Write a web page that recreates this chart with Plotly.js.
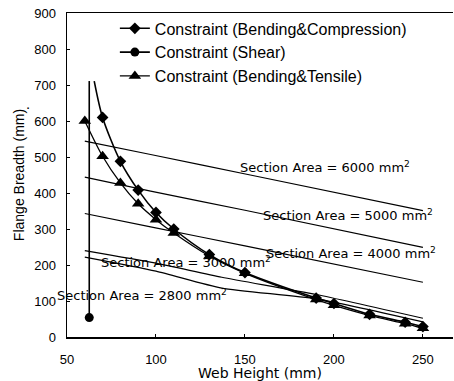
<!DOCTYPE html>
<html>
<head>
<meta charset="utf-8">
<script src="https://cdn.plot.ly/plotly-3.0.1.min.js"></script>
<style>html,body{margin:0;padding:0;background:#fff;}#chart{width:454px;height:381px;}</style>
</head>
<body>
<div id="chart"></div>
<script>
// Constraint (Bending&Compression) — listed from the right end to the top of the curve
const compX = [250, 240, 220, 200, 190, 150, 130, 110, 100, 90, 80, 70, 65.3];
const compY = [29, 41, 63, 93, 108, 179, 229, 300, 346, 408, 488, 610, 711];
const compMarkerColor = ['#000', '#000', '#000', '#000', '#000', '#000', '#000', '#000', '#000', '#000', '#000', '#000', 'rgba(0,0,0,0)'];
// Constraint (Shear)
const shearX = [62.5, 62.5];
const shearY = [54, 711];
const shearMarkerColor = ['#000', 'rgba(0,0,0,0)'];
// Constraint (Bending&Tensile)
const tensX = [60, 70, 80, 90, 100, 110, 130, 150, 190, 200, 220, 240, 250];
const tensY = [600, 502, 428, 370, 326, 289, 225, 177, 104, 88, 60, 37, 24];
// Section area lines
const a6000X = [60, 97, 153, 250];
const a6000Y = [544, 507, 450, 351];
const a5000X = [60, 97, 150, 250];
const a5000Y = [444, 405, 352, 249];
const a4000X = [60, 97, 150, 250];
const a4000Y = [343, 306, 253, 152];
const a3000X = [60, 100, 137, 190, 250];
const a3000Y = [240, 205, 166, 118, 52];
const a2800X = [60, 100, 137, 190, 250];
const a2800Y = [222, 183, 136, 106, 42];
// Labels
const legendNames = ["Constraint (Bending&Compression)", "Constraint (Shear)", "Constraint (Bending&Tensile)"];
const areaLabels = ["Section Area = 6000 mm<sup>2</sup>", "Section Area = 5000 mm<sup>2</sup>", "Section Area = 4000 mm<sup>2</sup>", "Section Area = 3000 mm<sup>2</sup>", "Section Area = 2800 mm<sup>2</sup>"];
const areaLabelX = [194.7, 208, 209.5, 117, 92];
const areaLabelY = [472, 339, 232, 209, 117];
const xTicks = [50, 100, 150, 200, 250];
const yTicks = [0, 100, 200, 300, 400, 500, 600, 700, 800, 900];

const areaLine = {color: '#000', width: 1.2, shape: 'spline', smoothing: 0.6};
const traces = [
  {x: compX, y: compY, name: legendNames[0], mode: 'lines+markers', line: {color: '#000', width: 1.6, shape: 'spline', smoothing: 0.8}, marker: {symbol: 'diamond', size: 9, color: compMarkerColor, opacity: 1}},
  {x: shearX, y: shearY, name: legendNames[1], mode: 'lines+markers', line: {color: '#000', width: 1.6}, marker: {symbol: 'circle', size: 9, color: shearMarkerColor, opacity: 1}},
  {x: tensX, y: tensY, name: legendNames[2], mode: 'lines+markers', line: {color: '#000', width: 1.3, shape: 'spline', smoothing: 0.8}, marker: {symbol: 'triangle-up', size: 11, color: '#000', opacity: 1}},
  {x: a6000X, y: a6000Y, mode: 'lines', line: areaLine, showlegend: false, hoverinfo: 'skip'},
  {x: a5000X, y: a5000Y, mode: 'lines', line: areaLine, showlegend: false, hoverinfo: 'skip'},
  {x: a4000X, y: a4000Y, mode: 'lines', line: areaLine, showlegend: false, hoverinfo: 'skip'},
  {x: a3000X, y: a3000Y, mode: 'lines', line: areaLine, showlegend: false, hoverinfo: 'skip'},
  {x: a2800X, y: a2800Y, mode: 'lines', line: areaLine, showlegend: false, hoverinfo: 'skip'}
];

const annotations = areaLabels.map((t, i) => ({
  x: areaLabelX[i], y: areaLabelY[i], xref: 'x', yref: 'y', text: t, showarrow: false,
  font: {family: 'DejaVu Sans', size: 13, color: '#000'}, xanchor: 'center', yanchor: 'middle'
}));
annotations.push({x: (28 - 67) / 386, y: (337 - 103) / 324, xref: 'paper', yref: 'paper', text: '.', showarrow: false,
  font: {family: 'Liberation Sans, Arial', size: 15, color: '#000'}, xanchor: 'center', yanchor: 'middle'});

const layout = {
  width: 454, height: 381,
  margin: {l: 67, r: 1, t: 13, b: 44},
  paper_bgcolor: '#fff', plot_bgcolor: '#fff',
  font: {family: 'Liberation Sans, Arial', size: 13, color: '#000'},
  showlegend: true,
  legend: {x: 0.124, y: 1.005, xanchor: 'left', yanchor: 'top', bgcolor: 'rgba(0,0,0,0)', font: {family: 'Liberation Sans, Arial', size: 16, color: '#000'}, tracegroupgap: 0},
  xaxis: {
    range: [50, 266.9], tickvals: xTicks, ticktext: xTicks.map(String),
    showgrid: false, zeroline: false, showline: true, linecolor: '#000', linewidth: 1.5, mirror: true,
    ticks: 'inside', ticklen: 3, tickcolor: '#000', ticklabelstandoff: 10,
    tickfont: {family: 'Liberation Sans, Arial', size: 13},
    title: {text: 'Web Height (mm)', font: {family: 'DejaVu Sans', size: 14}, standoff: 3}
  },
  yaxis: {
    range: [0, 900], tickvals: yTicks, ticktext: yTicks.map(String),
    showgrid: false, zeroline: false, showline: true, linecolor: '#000', linewidth: 1.5,
    ticks: 'inside', ticklen: 3, tickcolor: '#000', ticklabelstandoff: 7,
    tickfont: {family: 'Liberation Sans, Arial', size: 13},
    title: {text: 'Flange Breadth (mm)', font: {family: 'Liberation Sans, Arial', size: 14}, standoff: 6}
  },
  annotations: annotations
};

Plotly.newPlot('chart', traces, layout, {staticPlot: true, displayModeBar: false});
</script>
</body>
</html>
